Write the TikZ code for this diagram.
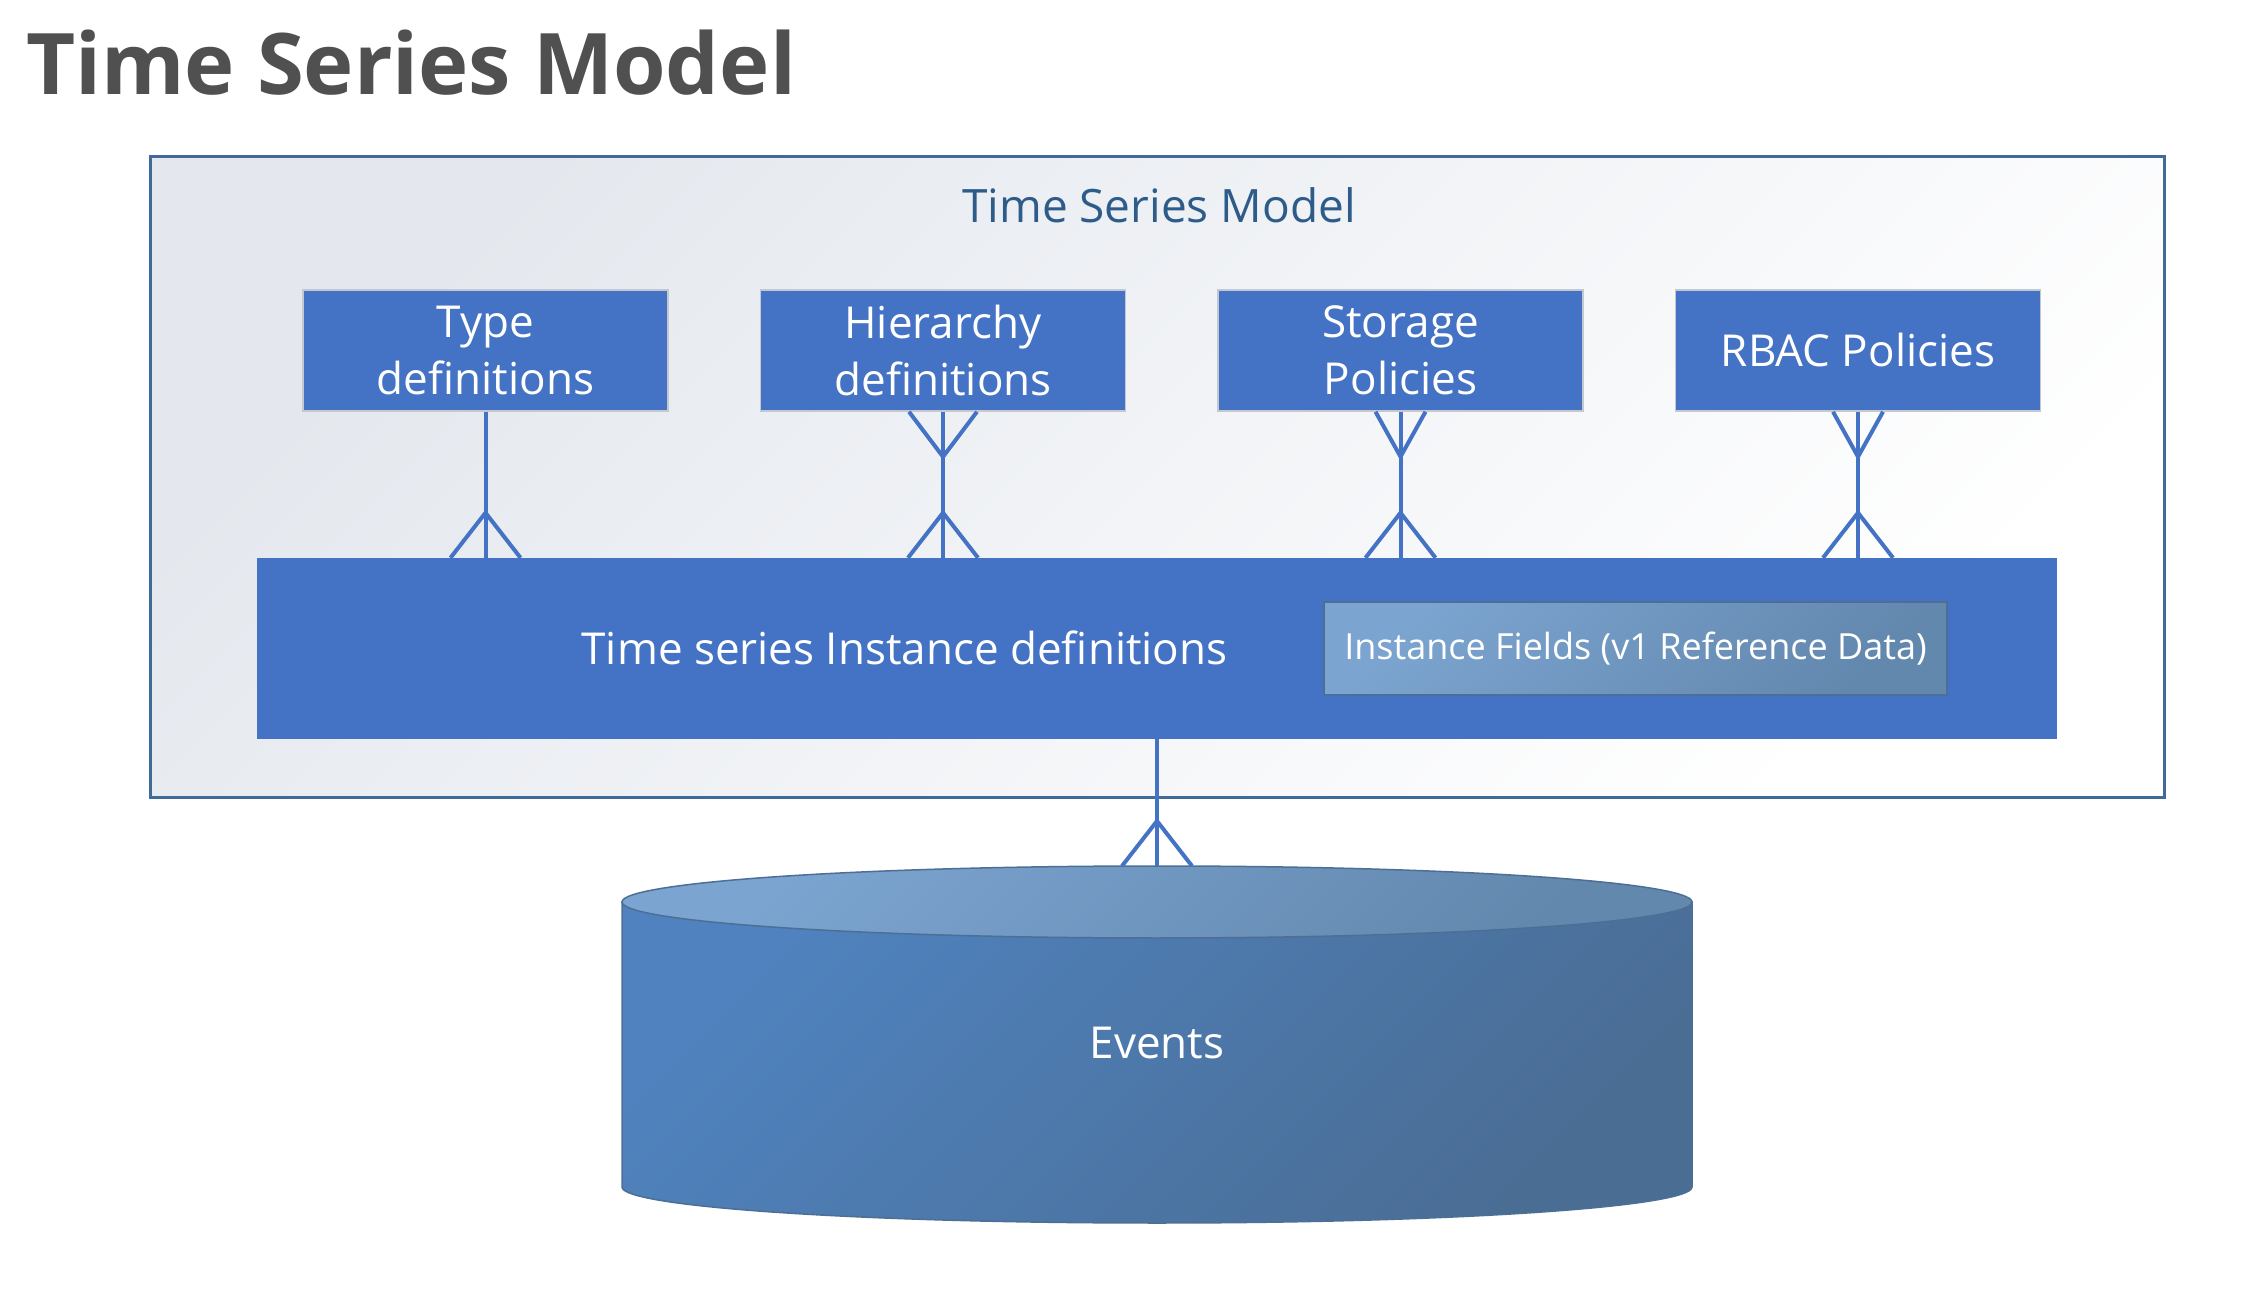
\documentclass[tikz,border=0pt]{standalone}
\usepackage{fontspec}
\setmainfont{Open Sans}
\usetikzlibrary{calc,positioning}
\definecolor{tsblue}{HTML}{4472C4}
\definecolor{boxedge}{HTML}{C4C8D0}
\definecolor{frameedge}{HTML}{3F6A99}
\definecolor{titlegrey}{HTML}{505050}
\definecolor{innertitle}{HTML}{2E5C8A}
\definecolor{paneltop}{HTML}{E4E8EE}
\definecolor{cylside}{HTML}{4F82BE}
\definecolor{cylsidedark}{HTML}{4A6D94}
\definecolor{cyltop}{HTML}{7BA4D0}
\definecolor{cyltopdark}{HTML}{6388AE}
\definecolor{cyledge}{HTML}{4C6F96}
\tikzset{
  entity/.style={fill=tsblue, draw=boxedge, line width=1.5pt, minimum width=365pt,
    minimum height=121pt, inner sep=0pt, text=white, align=center,
    font=\fontsize{44}{57}\selectfont},
  fieldbox/.style={shade, top color=cyltop, bottom color=cyltopdark, shading angle=45,
    draw=cyledge, line width=2pt, minimum width=623pt, minimum height=93pt, inner sep=0pt,
    text=white, font=\fontsize{36}{40}\selectfont},
  link/.style={draw=tsblue, line width=4pt},
}

\begin{document}
\begin{tikzpicture}[x=1pt, y=1pt]
\useasboundingbox[fill=white] (0,0) rectangle (2242,1302);
% heading
\node[anchor=base west, inner sep=0pt, text=titlegrey, font=\fontsize{85}{100}\selectfont\bfseries] (heading) at (26,1207) {Time Series Model};
% model frame
\node[shade, top color=paneltop, bottom color=white, shading angle=45, draw=frameedge, line width=3pt,
  minimum width=2014pt, minimum height=641pt] (model) at (1157,824.5) {};
\node[text=innertitle, font=\fontsize{46}{50}\selectfont] (modeltitle) at (1159,1096.5) {Time Series Model};
% entities
\node[entity] (type) at (485.5,951.5) {Type\\definitions};
\node[entity, right=91pt of type] (hier) {Hierarchy\\definitions};
\node[entity, right=91pt of hier] (stor) {Storage\\Policies};
\node[entity, right=91pt of stor] (rbac) {RBAC Policies};
\node[fill=tsblue, minimum width=1800pt, minimum height=181pt] (bar) at (1157,653.5) {};
\node[text=white, font=\fontsize{44}{50}\selectfont] (barlabel) at (904.5,654) {Time series Instance definitions};
\node[fieldbox] (fields) at (1635.5,653.5) {Instance Fields (v1 Reference Data)};
% events store
\shade[top color=cylside, bottom color=cylsidedark, shading angle=45, draw=cyledge, line width=1.5pt]
  (622,400) -- (622,115) arc[start angle=180, end angle=360, x radius=535, y radius=36] -- (1692,400) -- cycle;
\shade[top color=cyltop, bottom color=cyltopdark, shading angle=45, draw=cyledge, line width=1.5pt]
  (1157,400) ellipse[x radius=535, y radius=36];
\coordinate (evtop) at (1157,436);
\node[text=white, font=\fontsize{44}{50}\selectfont] (events) at (1157,259) {Events};
% links with crow's feet
\foreach \e in {type,hier,stor,rbac}{
  \coordinate (\e-bar) at (\e.south |- bar.north);
  \draw[link] (\e.south) -- (\e-bar);
  \draw[link] ($(\e-bar)+(-35,0)$) -- ($(\e-bar)+(0,45)$) -- ($(\e-bar)+(35,0)$);
}
\foreach \e/\w in {hier/34,stor/25,rbac/25}
  \draw[link] ($(\e.south)+(-\w,0)$) -- ($(\e.south)+(0,-45)$) -- ($(\e.south)+(\w,0)$);
\draw[link] (bar.south) -- (evtop);
\draw[link] ($(evtop)+(-35,0)$) -- ($(evtop)+(0,45)$) -- ($(evtop)+(35,0)$);
\end{tikzpicture}
\end{document}
